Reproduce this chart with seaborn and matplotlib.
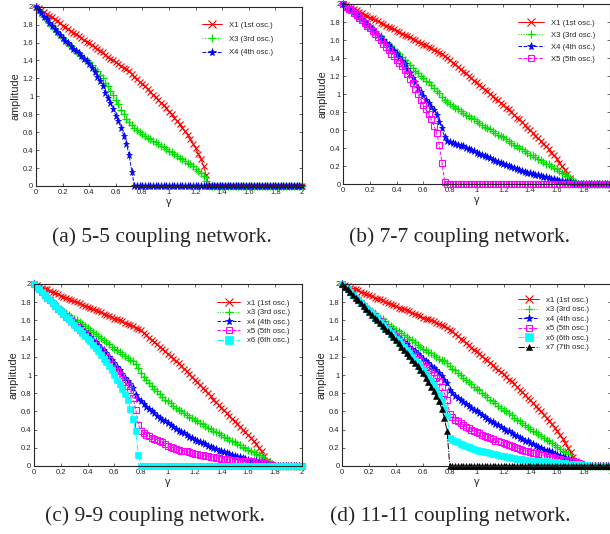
import numpy as np
import seaborn as sns
import matplotlib
matplotlib.use("Agg")
import matplotlib.pyplot as plt
from matplotlib.ticker import FuncFormatter, MultipleLocator

# coupling strength grid, 0 .. 2 in steps of 0.02
gamma = np.round(np.linspace(0, 2, 101), 2)

# (a) 5-5 coupling network
A_X1 = [2.00, 1.98, 1.96, 1.94, 1.92, 1.90, 1.88, 1.86, 1.84, 1.82,
        1.79, 1.77, 1.75, 1.73, 1.71, 1.69, 1.67, 1.65, 1.63, 1.61,
        1.59, 1.57, 1.55, 1.53, 1.51, 1.49, 1.46, 1.44, 1.42, 1.40,
        1.38, 1.36, 1.34, 1.32, 1.30, 1.28, 1.25, 1.22, 1.19, 1.16,
        1.14, 1.11, 1.08, 1.05, 1.02, 0.99, 0.96, 0.93, 0.90, 0.87,
        0.83, 0.80, 0.76, 0.73, 0.69, 0.65, 0.61, 0.57, 0.52, 0.47,
        0.42, 0.36, 0.30, 0.22, 0.12, 0, 0, 0, 0, 0,
        0, 0, 0, 0, 0, 0, 0, 0, 0, 0,
        0, 0, 0, 0, 0, 0, 0, 0, 0, 0,
        0, 0, 0, 0, 0, 0, 0, 0, 0, 0,
        0]
A_X3 = [2.00, 1.96, 1.93, 1.89, 1.86, 1.82, 1.79, 1.75, 1.72, 1.68,
        1.65, 1.62, 1.59, 1.56, 1.53, 1.51, 1.48, 1.45, 1.43, 1.40,
        1.38, 1.35, 1.31, 1.28, 1.24, 1.20, 1.15, 1.11, 1.06, 1.02,
        0.96, 0.91, 0.85, 0.80, 0.75, 0.71, 0.68, 0.65, 0.63, 0.60,
        0.58, 0.56, 0.54, 0.52, 0.50, 0.49, 0.47, 0.45, 0.43, 0.41,
        0.39, 0.38, 0.36, 0.34, 0.31, 0.30, 0.28, 0.26, 0.24, 0.22,
        0.19, 0.17, 0.14, 0.11, 0.06, 0, 0, 0, 0, 0,
        0, 0, 0, 0, 0, 0, 0, 0, 0, 0,
        0, 0, 0, 0, 0, 0, 0, 0, 0, 0,
        0, 0, 0, 0, 0, 0, 0, 0, 0, 0,
        0]
A_X4 = [2.00, 1.96, 1.93, 1.89, 1.86, 1.82, 1.79, 1.75, 1.72, 1.68,
        1.65, 1.62, 1.59, 1.56, 1.53, 1.51, 1.48, 1.45, 1.42, 1.39,
        1.36, 1.32, 1.27, 1.22, 1.17, 1.11, 1.04, 0.98, 0.93, 0.86,
        0.78, 0.72, 0.65, 0.56, 0.47, 0.35, 0.16, 0, 0, 0,
        0, 0, 0, 0, 0, 0, 0, 0, 0, 0,
        0, 0, 0, 0, 0, 0, 0, 0, 0, 0,
        0, 0, 0, 0, 0, 0, 0, 0, 0, 0,
        0, 0, 0, 0, 0, 0, 0, 0, 0, 0,
        0, 0, 0, 0, 0, 0, 0, 0, 0, 0,
        0, 0, 0, 0, 0, 0, 0, 0, 0, 0,
        0]

# (b) 7-7 coupling network
B_X1 = [2.00, 1.99, 1.97, 1.96, 1.94, 1.93, 1.91, 1.90, 1.88, 1.87,
        1.85, 1.84, 1.82, 1.81, 1.79, 1.78, 1.76, 1.75, 1.73, 1.72,
        1.70, 1.69, 1.67, 1.66, 1.64, 1.63, 1.61, 1.60, 1.58, 1.57,
        1.55, 1.54, 1.52, 1.51, 1.49, 1.48, 1.46, 1.45, 1.42, 1.40,
        1.38, 1.35, 1.33, 1.30, 1.28, 1.25, 1.23, 1.20, 1.18, 1.15,
        1.13, 1.10, 1.08, 1.05, 1.03, 1.00, 0.98, 0.95, 0.93, 0.90,
        0.88, 0.85, 0.83, 0.80, 0.77, 0.74, 0.72, 0.69, 0.66, 0.63,
        0.60, 0.57, 0.54, 0.51, 0.48, 0.45, 0.42, 0.39, 0.35, 0.32,
        0.28, 0.24, 0.20, 0.16, 0.11, 0.07, 0.03, 0, 0, 0,
        0, 0, 0, 0, 0, 0, 0, 0, 0, 0,
        0]
B_X3 = [2.00, 1.97, 1.95, 1.93, 1.91, 1.88, 1.86, 1.83, 1.81, 1.78,
        1.76, 1.73, 1.70, 1.67, 1.64, 1.61, 1.58, 1.55, 1.53, 1.50,
        1.47, 1.44, 1.41, 1.38, 1.35, 1.32, 1.29, 1.26, 1.23, 1.20,
        1.18, 1.15, 1.13, 1.10, 1.07, 1.04, 1.01, 0.97, 0.94, 0.91,
        0.89, 0.87, 0.85, 0.83, 0.81, 0.79, 0.77, 0.76, 0.74, 0.72,
        0.70, 0.68, 0.66, 0.64, 0.62, 0.61, 0.59, 0.57, 0.55, 0.54,
        0.52, 0.50, 0.48, 0.46, 0.44, 0.42, 0.40, 0.39, 0.37, 0.35,
        0.33, 0.32, 0.30, 0.28, 0.27, 0.25, 0.23, 0.22, 0.20, 0.18,
        0.17, 0.15, 0.13, 0.11, 0.09, 0.07, 0.05, 0.02, 0, 0,
        0, 0, 0, 0, 0, 0, 0, 0, 0, 0,
        0]
B_X4 = [2.00, 1.97, 1.95, 1.93, 1.91, 1.88, 1.86, 1.83, 1.80, 1.77,
        1.75, 1.72, 1.69, 1.66, 1.63, 1.60, 1.57, 1.54, 1.51, 1.48,
        1.45, 1.41, 1.37, 1.33, 1.28, 1.23, 1.18, 1.13, 1.07, 1.02,
        0.98, 0.94, 0.90, 0.86, 0.82, 0.77, 0.69, 0.62, 0.52, 0.48,
        0.47, 0.46, 0.45, 0.44, 0.43, 0.42, 0.40, 0.39, 0.38, 0.37,
        0.35, 0.34, 0.33, 0.31, 0.30, 0.29, 0.27, 0.26, 0.25, 0.24,
        0.22, 0.21, 0.20, 0.19, 0.18, 0.17, 0.16, 0.15, 0.14, 0.13,
        0.12, 0.11, 0.10, 0.10, 0.09, 0.08, 0.08, 0.07, 0.06, 0.06,
        0.05, 0.04, 0.04, 0.03, 0.02, 0.02, 0.01, 0, 0, 0,
        0, 0, 0, 0, 0, 0, 0, 0, 0, 0,
        0]
B_X5 = [2.00, 1.97, 1.95, 1.93, 1.90, 1.88, 1.85, 1.82, 1.79, 1.76,
        1.73, 1.70, 1.67, 1.63, 1.60, 1.56, 1.52, 1.49, 1.45, 1.42,
        1.38, 1.35, 1.31, 1.27, 1.22, 1.17, 1.12, 1.06, 1.00, 0.94,
        0.88, 0.83, 0.78, 0.72, 0.65, 0.57, 0.44, 0.24, 0.03, 0,
        0, 0, 0, 0, 0, 0, 0, 0, 0, 0,
        0, 0, 0, 0, 0, 0, 0, 0, 0, 0,
        0, 0, 0, 0, 0, 0, 0, 0, 0, 0,
        0, 0, 0, 0, 0, 0, 0, 0, 0, 0,
        0, 0, 0, 0, 0, 0, 0, 0, 0, 0,
        0, 0, 0, 0, 0, 0, 0, 0, 0, 0,
        0]

# (c) 9-9 coupling network
C_X1 = [2.00, 1.99, 1.97, 1.96, 1.95, 1.94, 1.92, 1.91, 1.90, 1.89,
        1.87, 1.86, 1.85, 1.84, 1.82, 1.81, 1.80, 1.79, 1.77, 1.76,
        1.75, 1.74, 1.72, 1.71, 1.70, 1.69, 1.67, 1.66, 1.65, 1.64,
        1.62, 1.61, 1.60, 1.59, 1.57, 1.56, 1.55, 1.54, 1.52, 1.51,
        1.49, 1.46, 1.44, 1.41, 1.39, 1.36, 1.34, 1.31, 1.29, 1.26,
        1.23, 1.21, 1.18, 1.15, 1.13, 1.10, 1.07, 1.04, 1.01, 0.98,
        0.95, 0.92, 0.89, 0.86, 0.83, 0.80, 0.77, 0.73, 0.70, 0.67,
        0.64, 0.61, 0.58, 0.55, 0.52, 0.49, 0.46, 0.43, 0.40, 0.37,
        0.34, 0.31, 0.27, 0.24, 0.20, 0.16, 0.11, 0.06, 0.02, 0,
        0, 0, 0, 0, 0, 0, 0, 0, 0, 0,
        0]
C_X3 = [2.00, 1.97, 1.94, 1.91, 1.88, 1.86, 1.83, 1.80, 1.77, 1.75,
        1.72, 1.70, 1.68, 1.66, 1.64, 1.62, 1.60, 1.58, 1.56, 1.54,
        1.52, 1.50, 1.47, 1.45, 1.43, 1.41, 1.38, 1.36, 1.34, 1.31,
        1.29, 1.27, 1.25, 1.23, 1.21, 1.19, 1.17, 1.15, 1.12, 1.08,
        1.02, 0.98, 0.94, 0.91, 0.88, 0.85, 0.82, 0.79, 0.76, 0.73,
        0.71, 0.69, 0.66, 0.64, 0.62, 0.60, 0.58, 0.56, 0.54, 0.53,
        0.51, 0.49, 0.47, 0.46, 0.44, 0.42, 0.41, 0.39, 0.37, 0.36,
        0.34, 0.32, 0.31, 0.29, 0.28, 0.26, 0.24, 0.23, 0.21, 0.20,
        0.18, 0.17, 0.15, 0.13, 0.12, 0.10, 0.08, 0.06, 0.04, 0.02,
        0, 0, 0, 0, 0, 0, 0, 0, 0, 0,
        0]
C_X4 = [2.00, 1.97, 1.94, 1.91, 1.88, 1.85, 1.82, 1.79, 1.76, 1.73,
        1.71, 1.68, 1.65, 1.63, 1.60, 1.58, 1.55, 1.53, 1.50, 1.47,
        1.45, 1.42, 1.39, 1.36, 1.33, 1.30, 1.27, 1.24, 1.20, 1.17,
        1.13, 1.09, 1.05, 1.01, 0.97, 0.93, 0.90, 0.86, 0.78, 0.74,
        0.71, 0.68, 0.65, 0.63, 0.60, 0.58, 0.55, 0.53, 0.51, 0.49,
        0.47, 0.45, 0.43, 0.41, 0.39, 0.37, 0.36, 0.34, 0.32, 0.31,
        0.29, 0.28, 0.26, 0.25, 0.24, 0.22, 0.21, 0.20, 0.19, 0.17,
        0.16, 0.15, 0.14, 0.13, 0.12, 0.11, 0.10, 0.10, 0.09, 0.08,
        0.07, 0.06, 0.06, 0.05, 0.04, 0.04, 0.03, 0.02, 0.01, 0.01,
        0, 0, 0, 0, 0, 0, 0, 0, 0, 0,
        0]
C_X5 = [2.00, 1.97, 1.94, 1.91, 1.88, 1.85, 1.82, 1.79, 1.76, 1.73,
        1.70, 1.67, 1.64, 1.62, 1.59, 1.56, 1.53, 1.50, 1.48, 1.45,
        1.42, 1.39, 1.36, 1.33, 1.30, 1.27, 1.23, 1.20, 1.16, 1.12,
        1.08, 1.04, 1.00, 0.96, 0.92, 0.88, 0.83, 0.75, 0.62, 0.45,
        0.39, 0.36, 0.34, 0.33, 0.31, 0.30, 0.29, 0.27, 0.26, 0.24,
        0.22, 0.21, 0.20, 0.19, 0.18, 0.17, 0.17, 0.16, 0.15, 0.14,
        0.13, 0.13, 0.12, 0.12, 0.11, 0.11, 0.10, 0.10, 0.09, 0.09,
        0.08, 0.08, 0.08, 0.07, 0.07, 0.07, 0.06, 0.06, 0.06, 0.05,
        0.05, 0.05, 0.04, 0.04, 0.04, 0.03, 0.03, 0.02, 0.02, 0.01,
        0, 0, 0, 0, 0, 0, 0, 0, 0, 0,
        0]
C_X6 = [2.00, 1.97, 1.94, 1.91, 1.88, 1.85, 1.82, 1.79, 1.76, 1.73,
        1.70, 1.67, 1.64, 1.61, 1.58, 1.55, 1.52, 1.49, 1.46, 1.43,
        1.40, 1.37, 1.33, 1.30, 1.26, 1.22, 1.18, 1.14, 1.10, 1.05,
        1.00, 0.95, 0.90, 0.85, 0.79, 0.72, 0.63, 0.52, 0.38, 0.12,
        0, 0, 0, 0, 0, 0, 0, 0, 0, 0,
        0, 0, 0, 0, 0, 0, 0, 0, 0, 0,
        0, 0, 0, 0, 0, 0, 0, 0, 0, 0,
        0, 0, 0, 0, 0, 0, 0, 0, 0, 0,
        0, 0, 0, 0, 0, 0, 0, 0, 0, 0,
        0, 0, 0, 0, 0, 0, 0, 0, 0, 0,
        0]

# (d) 11-11 coupling network
D_X1 = [2.00, 1.99, 1.98, 1.96, 1.95, 1.94, 1.93, 1.91, 1.90, 1.89,
        1.88, 1.87, 1.85, 1.84, 1.83, 1.82, 1.80, 1.79, 1.78, 1.77,
        1.76, 1.74, 1.73, 1.72, 1.71, 1.70, 1.68, 1.67, 1.66, 1.65,
        1.63, 1.62, 1.61, 1.60, 1.59, 1.57, 1.56, 1.55, 1.54, 1.52,
        1.50, 1.48, 1.45, 1.43, 1.40, 1.38, 1.35, 1.33, 1.30, 1.28,
        1.26, 1.23, 1.21, 1.18, 1.16, 1.13, 1.11, 1.08, 1.06, 1.03,
        1.01, 0.98, 0.95, 0.93, 0.90, 0.87, 0.84, 0.81, 0.78, 0.75,
        0.72, 0.69, 0.66, 0.63, 0.60, 0.56, 0.53, 0.49, 0.46, 0.42,
        0.38, 0.34, 0.30, 0.25, 0.20, 0.15, 0.10, 0.05, 0.01, 0,
        0, 0, 0, 0, 0, 0, 0, 0, 0, 0,
        0]
D_X3 = [2.00, 1.97, 1.94, 1.91, 1.88, 1.85, 1.82, 1.80, 1.77, 1.75,
        1.72, 1.70, 1.68, 1.65, 1.63, 1.61, 1.59, 1.56, 1.54, 1.52,
        1.50, 1.48, 1.46, 1.44, 1.42, 1.40, 1.38, 1.36, 1.33, 1.31,
        1.29, 1.27, 1.25, 1.24, 1.22, 1.20, 1.18, 1.17, 1.15, 1.13,
        1.10, 1.07, 1.05, 1.02, 1.00, 0.97, 0.95, 0.92, 0.90, 0.87,
        0.85, 0.83, 0.80, 0.78, 0.76, 0.73, 0.71, 0.69, 0.66, 0.64,
        0.62, 0.60, 0.58, 0.56, 0.53, 0.51, 0.49, 0.47, 0.45, 0.43,
        0.41, 0.39, 0.37, 0.35, 0.33, 0.31, 0.29, 0.27, 0.25, 0.23,
        0.21, 0.19, 0.17, 0.15, 0.13, 0.10, 0.07, 0.04, 0.02, 0,
        0, 0, 0, 0, 0, 0, 0, 0, 0, 0,
        0]
D_X4 = [2.00, 1.97, 1.94, 1.91, 1.88, 1.85, 1.82, 1.79, 1.76, 1.73,
        1.71, 1.68, 1.65, 1.62, 1.60, 1.57, 1.54, 1.51, 1.49, 1.46,
        1.44, 1.41, 1.39, 1.36, 1.34, 1.31, 1.29, 1.26, 1.23, 1.21,
        1.18, 1.15, 1.13, 1.10, 1.08, 1.05, 1.02, 0.99, 0.95, 0.91,
        0.83, 0.80, 0.77, 0.75, 0.72, 0.70, 0.68, 0.66, 0.64, 0.62,
        0.60, 0.58, 0.56, 0.54, 0.52, 0.50, 0.48, 0.46, 0.45, 0.43,
        0.41, 0.39, 0.38, 0.36, 0.34, 0.33, 0.31, 0.30, 0.28, 0.27,
        0.25, 0.24, 0.22, 0.21, 0.20, 0.18, 0.17, 0.16, 0.15, 0.13,
        0.12, 0.11, 0.10, 0.09, 0.08, 0.07, 0.05, 0.04, 0.02, 0.01,
        0, 0, 0, 0, 0, 0, 0, 0, 0, 0,
        0]
D_X5 = [2.00, 1.97, 1.94, 1.91, 1.88, 1.85, 1.82, 1.79, 1.76, 1.73,
        1.70, 1.67, 1.64, 1.61, 1.59, 1.56, 1.53, 1.50, 1.47, 1.44,
        1.42, 1.39, 1.36, 1.33, 1.30, 1.27, 1.24, 1.21, 1.18, 1.15,
        1.12, 1.09, 1.06, 1.03, 1.00, 0.97, 0.93, 0.87, 0.80, 0.72,
        0.57, 0.54, 0.51, 0.49, 0.47, 0.45, 0.43, 0.42, 0.40, 0.39,
        0.37, 0.36, 0.34, 0.33, 0.32, 0.31, 0.30, 0.28, 0.27, 0.26,
        0.25, 0.24, 0.23, 0.22, 0.21, 0.20, 0.19, 0.18, 0.17, 0.16,
        0.15, 0.14, 0.14, 0.13, 0.12, 0.12, 0.11, 0.10, 0.10, 0.09,
        0.08, 0.08, 0.07, 0.07, 0.06, 0.05, 0.05, 0.04, 0.03, 0.02,
        0.01, 0, 0, 0, 0, 0, 0, 0, 0, 0,
        0]
D_X6 = [2.00, 1.97, 1.94, 1.91, 1.88, 1.85, 1.82, 1.79, 1.76, 1.73,
        1.70, 1.67, 1.64, 1.61, 1.58, 1.55, 1.52, 1.49, 1.46, 1.43,
        1.40, 1.37, 1.34, 1.31, 1.27, 1.24, 1.20, 1.17, 1.13, 1.09,
        1.05, 1.01, 0.97, 0.93, 0.89, 0.84, 0.78, 0.71, 0.64, 0.55,
        0.31, 0.29, 0.27, 0.26, 0.24, 0.23, 0.22, 0.21, 0.20, 0.19,
        0.18, 0.17, 0.16, 0.15, 0.15, 0.14, 0.13, 0.13, 0.12, 0.11,
        0.11, 0.10, 0.10, 0.09, 0.09, 0.08, 0.08, 0.08, 0.07, 0.07,
        0.06, 0.06, 0.06, 0.05, 0.05, 0.05, 0.05, 0.04, 0.04, 0.04,
        0.03, 0.03, 0.03, 0.03, 0.02, 0.02, 0.02, 0.02, 0.02, 0.01,
        0.01, 0.01, 0, 0, 0, 0, 0, 0, 0, 0,
        0]
D_X7 = [2.00, 1.97, 1.94, 1.91, 1.88, 1.85, 1.82, 1.79, 1.76, 1.73,
        1.69, 1.66, 1.63, 1.60, 1.57, 1.54, 1.51, 1.48, 1.45, 1.42,
        1.38, 1.35, 1.31, 1.28, 1.24, 1.21, 1.17, 1.13, 1.10, 1.06,
        1.02, 0.97, 0.92, 0.87, 0.82, 0.77, 0.71, 0.63, 0.53, 0.38,
        0, 0, 0, 0, 0, 0, 0, 0, 0, 0,
        0, 0, 0, 0, 0, 0, 0, 0, 0, 0,
        0, 0, 0, 0, 0, 0, 0, 0, 0, 0,
        0, 0, 0, 0, 0, 0, 0, 0, 0, 0,
        0, 0, 0, 0, 0, 0, 0, 0, 0, 0,
        0, 0, 0, 0, 0, 0, 0, 0, 0, 0,
        0]

ORD = {"1": "1st", "3": "3rd", "4": "4th", "5": "5th", "6": "6th", "7": "7th"}

STYLE = {
    "1": dict(color="#ff0000", linestyle="-", marker="x", ms=4.6, mew=0.8),
    "3": dict(color="#00e000", linestyle=":", marker="+", ms=5.2, mew=0.9),
    "4": dict(color="#0000ff", linestyle="--", marker="*", ms=5.2, mew=0.5),
    "5": dict(color="#ff00ff", linestyle="--", marker="s", ms=4.4, mew=0.8, mfc="none"),
    "6": dict(color="#00ffff", linestyle="-.", marker="s", ms=4.6, mew=0.5),
    "7": dict(color="#000000", linestyle="-.", marker="^", ms=4.4, mew=0.4),
}

sns.set_style("ticks")
plt.rcParams["font.family"] = ["Liberation Sans", "DejaVu Sans"]
plt.rcParams["axes.linewidth"] = 0.8

W, H = 610, 534
fig = plt.figure(figsize=(W / 100, H / 100), dpi=100)


def px_axes(x0, x1, y0, y1):
    # pixel box -> figure fraction
    return fig.add_axes([x0 / W, 1 - y1 / H, (x1 - x0) / W, (y1 - y0) / H])


panels = [
    # axes box, series, prefix, legend anchor, row spacing, handle length, caption
    ((36, 302, 6.7, 186), [("1", A_X1), ("3", A_X3), ("4", A_X4)], "X",
     (202, 21.5), 0.8, 2.6, ("(a) 5-5 coupling network.", 162, 237)),
    ((343.3, 610, 4, 184.3), [("1", B_X1), ("3", B_X3), ("4", B_X4), ("5", B_X5)], "X",
     (518, 19.5), 0.58, 3.3, ("(b) 7-7 coupling network.", 460, 237)),
    ((34, 301.7, 284, 466), [("1", C_X1), ("3", C_X3), ("4", C_X4), ("5", C_X5), ("6", C_X6)], "x",
     (217, 299.5), 0.25, 3.0, ("(c) 9-9 coupling network.", 155, 516)),
    ((342.3, 611, 284, 466), [("1", D_X1), ("3", D_X3), ("4", D_X4), ("5", D_X5), ("6", D_X6), ("7", D_X7)], "x",
     (518, 296.5), 0.26, 2.7, ("(d) 11-11 coupling network.", 450, 516)),
]

fmt = FuncFormatter(lambda v, p: f"{v:g}")

for box, series, pre, anchor, spacing, hlen, caption in panels:
    ax = px_axes(*box)
    for key, vals in series:
        assert len(vals) == len(gamma), (key, len(vals))
        st = dict(STYLE[key])
        sns.lineplot(x=gamma, y=vals, ax=ax, label=f"{pre}{key} ({ORD[key]} osc.)",
                     lw=0.7, mec=st["color"], clip_on=False, **st)
    ax.set_xlim(0, 2)
    ax.set_ylim(0, 2)
    ax.xaxis.set_major_locator(MultipleLocator(0.2))
    ax.yaxis.set_major_locator(MultipleLocator(0.2))
    ax.xaxis.set_major_formatter(fmt)
    ax.yaxis.set_major_formatter(fmt)
    ax.tick_params(direction="in", top=True, right=True, length=2.5, width=0.5,
                   labelsize=5.5, pad=2)
    ax.set_xlabel("γ", fontsize=8, labelpad=1)
    ax.set_ylabel("amplitude", fontsize=7.8, labelpad=1.5)
    for s in ax.spines.values():
        s.set_linewidth(0.8)
    handles, labels = ax.get_legend_handles_labels()
    ax.legend(handles, labels, loc="upper left",
              bbox_to_anchor=(anchor[0] / W, 1 - anchor[1] / H),
              bbox_transform=fig.transFigure, frameon=False, fontsize=5.6,
              borderpad=0, borderaxespad=0, handlelength=hlen, handletextpad=0.9,
              labelspacing=spacing, markerscale=1.1)
    text, cx, cy = caption
    fig.text(cx / W, 1 - cy / H, text, ha="center", va="center",
             fontsize=15.5, family=["Liberation Serif", "DejaVu Serif"])

fig.savefig("out.png", dpi=100)
